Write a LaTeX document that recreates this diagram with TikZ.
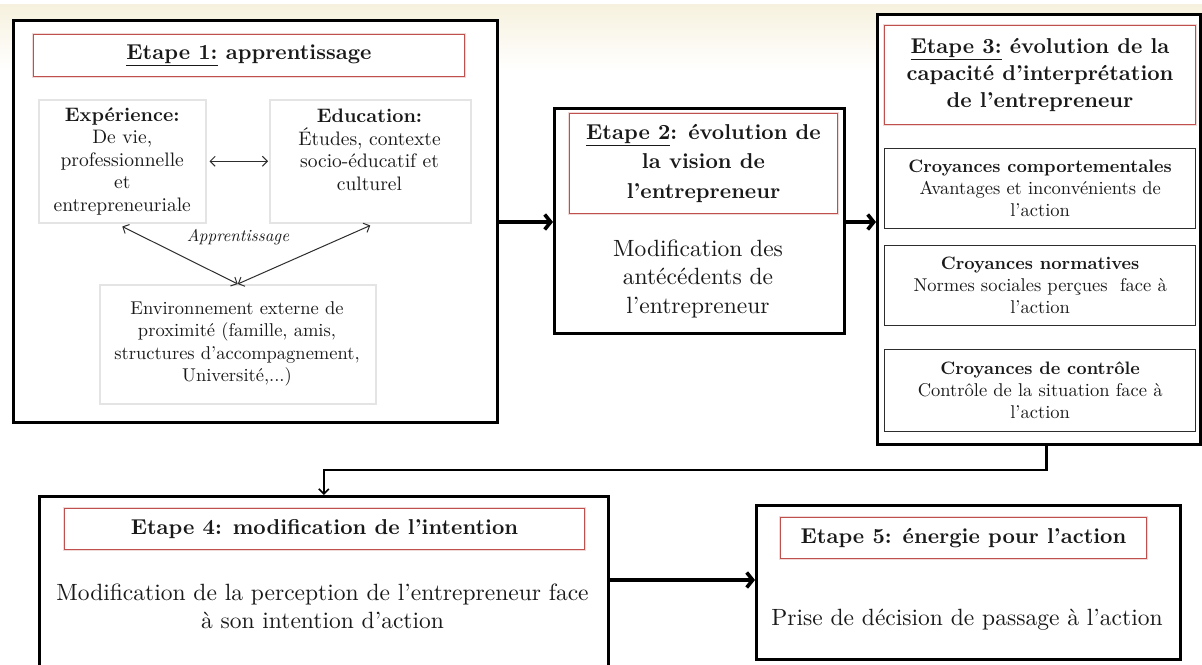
\documentclass[tikz,border=0pt]{standalone}
\usepackage{fontspec}
\setmainfont{lmroman10-regular.otf}[
  BoldFont=lmroman10-bold.otf,
  ItalicFont=lmroman10-italic.otf,
  BoldItalicFont=lmroman10-bolditalic.otf]
\usetikzlibrary{arrows.meta,shadows,calc}
\definecolor{titlered}{RGB}{192,80,77}
\definecolor{paleedge}{RGB}{228,228,228}
\definecolor{beige}{RGB}{246,241,222}
\definecolor{inkgray}{RGB}{45,45,45}
\definecolor{textink}{RGB}{25,25,25}
\begin{document}
\begin{tikzpicture}[x=1pt,y=-1pt, text=textink,
  outerbox/.style={draw=black, line width=2.6pt, fill=white, inner sep=0pt, anchor=north west,
    drop shadow={shadow xshift=1.5pt, shadow yshift=-2pt, opacity=0.25}},
  titlebox/.style={draw=titlered, line width=1pt, fill=white, inner sep=2pt, anchor=north west,
    align=center, preaction={draw=titlered!22, line width=3pt}},
  softbox/.style={draw=paleedge, line width=1.5pt, fill=white, inner sep=2pt, anchor=north west, align=center},
  beliefbox/.style={draw=inkgray, line width=1.3pt, fill=white, inner sep=2pt, anchor=north west, align=center},
  bigarrow/.style={line width=3.6pt, -{Straight Barb[length=6pt,width=15pt]}},
  linkarrow/.style={draw=inkgray, line width=1pt, {Straight Barb[length=5pt,width=10pt]}-{Straight Barb[length=5pt,width=10pt]}},
  elbow/.style={line width=2.4pt, -{Straight Barb[length=5pt,width=10pt,line width=1.6pt]}},
  titlefont/.style={font=\fontsize{21.5}{29.5}\selectfont\bfseries},
  smallfont/.style={font=\fontsize{19.5}{22.5}\selectfont},
  beliefs/.style={font=\fontsize{18.5}{22}\selectfont},
  bodyfont/.style={font=\fontsize{23.5}{28}\selectfont, align=center},
]
\clip (0,0) rectangle (1202,664);
% pale band along the top edge
\shade[top color=beige, bottom color=white] (0,4) rectangle (1202,70);

% ---- Stage 1: learning ----
\node[outerbox, minimum width=484pt, minimum height=402pt] (b1) at (12,19) {};
\node[titlebox, titlefont, minimum width=431pt, minimum height=42pt] (t1) at (33,34)
  {\underline{Etape 1:} apprentissage};
\node[softbox, smallfont, minimum width=167pt, minimum height=123pt] (exp) at (38,99)
  {\textbf{Expérience:}\\De vie,\\professionnelle\\et\\entrepreneuriale};
\node[softbox, minimum width=201pt, minimum height=123pt] (edu) at (269,99) {};
\node[smallfont, align=center] (edutext) at (369.5,150)
  {\textbf{Education:}\\Études, contexte\\socio-éducatif et\\culturel};
\node[softbox, minimum width=276pt, minimum height=119pt] (env) at (99,284) {};
\node[font=\fontsize{18.5}{22.5}\selectfont, align=center] (envtext) at (237,344)
  {Environnement externe de\\proximité (famille, amis,\\structures d'accompagnement,\\Université,...)};
\node[font=\fontsize{17}{20}\selectfont\itshape] (learn) at (238,237) {Apprentissage};

\draw[linkarrow] ([xshift=3pt]exp.east) -- ([xshift=-1pt]edu.west);
\draw[linkarrow] ([yshift=-3pt]exp.south) -- (env.north);
\draw[linkarrow] ([yshift=-2pt]edu.south) -- (env.north);

% ---- Stage 2: vision ----
\node[outerbox, minimum width=290pt, minimum height=225pt] (b2) at (553,107) {};
\node[titlebox, titlefont, minimum width=268pt, minimum height=100pt] (t2) at (569,113)
  {\underline{Etape 2}: évolution de\\la vision de\\l’entrepreneur};
\node[bodyfont, font=\fontsize{23.5}{28.5}\selectfont] (b2text) at (698,278.5)
  {Modification des\\antécédents de\\l’entrepreneur};

% ---- Stage 3: interpretation ----
\node[outerbox, minimum width=323pt, minimum height=430pt] (b3) at (876,13) {};
\node[titlebox, font=\fontsize{21.5}{27}\selectfont\bfseries, minimum width=311pt, minimum height=99pt] (t3) at (884,25)
  {\underline{Etape 3:} évolution de la\\capacité d’interprétation\\de l’entrepreneur};
\node[beliefbox, beliefs, minimum width=311pt, minimum height=80pt] (c1) at (884,148)
  {{\fontsize{18}{22}\selectfont\bfseries Croyances comportementales}\\Avantages et inconvénients de\\l’action};
\node[beliefbox, beliefs, minimum width=311pt, minimum height=80pt] (c2) at (884,245)
  {{\fontsize{18}{22}\selectfont\bfseries Croyances normatives}\\Normes sociales perçues\ \ face à\\l’action};
\node[beliefbox, beliefs, minimum width=311pt, minimum height=82pt] (c3) at (884,349)
  {{\fontsize{18}{22}\selectfont\bfseries Croyances de contrôle}\\Contrôle de la situation face à\\l’action};

% ---- Stage 4: intention ----
\node[outerbox, minimum width=569pt, minimum height=220pt] (b4) at (38,495) {};
\node[titlebox, titlefont, minimum width=520pt, minimum height=41pt] (t4) at (64,508)
  {Etape 4: modification de l’intention};
\node[bodyfont] (b4text) at (322.5,606)
  {Modification de la perception de l’entrepreneur face\\à son intention d’action};

% ---- Stage 5: energy ----
\node[outerbox, minimum width=424pt, minimum height=154pt] (b5) at (755,504) {};
\node[titlebox, titlefont, minimum width=366pt, minimum height=41pt] (t5) at (780,517)
  {Etape 5: énergie pour l’action};
\node[bodyfont] (b5text) at (967,620) {Prise de décision de passage à l’action};

% ---- flow between stages ----
\coordinate (rowA) at (0,222);
\draw[bigarrow] (b1.east |- rowA) -- (b2.west |- rowA);
\draw[bigarrow] (b2.east |- rowA) -- (b3.west |- rowA);
\coordinate (c3out) at ($(b3.south)+(7.5,0)$);
\draw[elbow] (c3out) |- ([yshift=25pt]b4.north) -- (b4.north);
\coordinate (rowB) at (0,580);
\draw[bigarrow] (b4.east |- rowB) -- (b5.west |- rowB);
\end{tikzpicture}
\end{document}
